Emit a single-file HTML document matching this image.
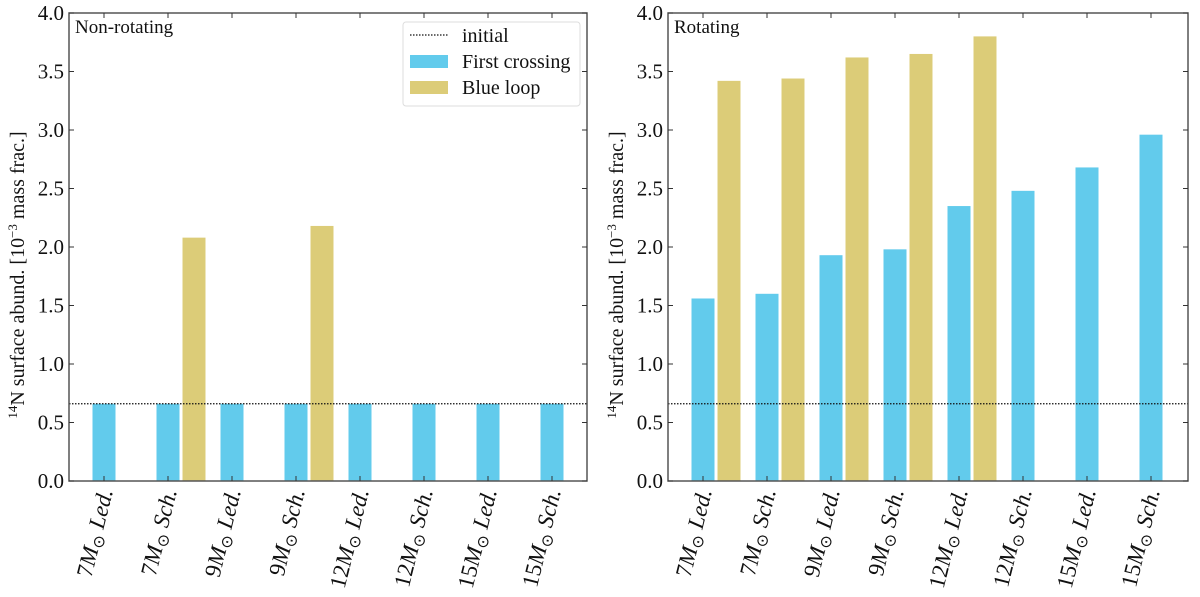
<!DOCTYPE html>
<html><head><meta charset="utf-8"><style>
body{margin:0;background:#fff}
svg text{font-family:"Liberation Serif",serif;fill:#111}
</style></head><body>
<svg id="c" width="1200" height="592" xmlns="http://www.w3.org/2000/svg"></svg>
<script>
const categories=["7M☉ Led.","7M☉ Sch.","9M☉ Led.","9M☉ Sch.","12M☉ Led.","12M☉ Sch.","15M☉ Led.","15M☉ Sch."];
const catMass=["7","7","9","9","12","12","15","15"];
const catSuffix=["Led.","Sch.","Led.","Sch.","Led.","Sch.","Led.","Sch."];
const nonRotFirst=[0.66,0.66,0.66,0.66,0.66,0.66,0.66,0.66];
const nonRotLoop=[null,2.08,null,2.18,null,null,null,null];
const rotFirst=[1.56,1.60,1.93,1.98,2.35,2.48,2.68,2.96];
const rotLoop=[3.42,3.44,3.62,3.65,3.80,null,null,null];
const initialValue=0.66;
const yTicks=[0,0.5,1,1.5,2,2.5,3,3.5,4];
const yTickLabels=["0.0","0.5","1.0","1.5","2.0","2.5","3.0","3.5","4.0"];
const NS="http://www.w3.org/2000/svg";
const svg=document.getElementById('c');
function mk(t,a,p){const e=document.createElementNS(NS,t);for(const k in a)e.setAttribute(k,a[k]);(p||svg).appendChild(e);return e;}
function panel(x0,x1,title,first,loop,name,legend){
  const top=13,bot=481;
  const g=mk('g',{});
  
  
  const y=v=>bot-(v/4)*(bot-top);
  const xc=i=>x0+35+i*64;
  first.forEach((v,i)=>{const r=mk('rect',{x:xc(i)-11.5,y:y(v),width:23,height:bot-y(v),fill:'#62cbec'},g);
    
    });
  loop.forEach((v,i)=>{if(v==null)return;const r=mk('rect',{x:xc(i)+14.5,y:y(v),width:23,height:bot-y(v),fill:'#dccc78'},g);
    
    });
  const il=mk('line',{x1:x0,x2:x1,y1:y(initialValue),y2:y(initialValue),stroke:'#111','stroke-width':1.2,'stroke-dasharray':'1.5,1.5'},g);
  
  
  const fr=mk('rect',{x:x0,y:top,width:x1-x0,height:bot-top,fill:'none',stroke:'#555','stroke-width':1.5},g);
  
  
  yTicks.forEach((v,i)=>{
    mk('line',{x1:x0,x2:x0+5,y1:y(v),y2:y(v),stroke:'#333'},g);
    mk('line',{x1:x1,x2:x1-5,y1:y(v),y2:y(v),stroke:'#333'},g);
    const t=mk('text',{x:x0-5,y:y(v)+7,'text-anchor':'end','font-size':21},g);t.textContent=yTickLabels[i];
    
    
  });
  categories.forEach((c,i)=>{
    mk('line',{x1:xc(i),x2:xc(i),y1:bot,y2:bot-5,stroke:'#333'},g);
    mk('line',{x1:xc(i),x2:xc(i),y1:top,y2:top+5,stroke:'#333'},g);
    const t=mk('text',{transform:`translate(${xc(i)+9},${bot+10}) rotate(-76)`,'text-anchor':'end','font-size':23,'font-style':'italic'},g);
    
    
    const a=mk('tspan',{'font-style':'normal'},t);a.textContent=catMass[i];
    const b=mk('tspan',{},t);b.textContent='M';
    const s=mk('tspan',{'font-size':16,dy:4,'font-style':'normal'},t);s.textContent='⊙';
    const d=mk('tspan',{dy:-4},t);d.textContent=' '+catSuffix[i];
  });
  const tt=mk('text',{x:x0+6,y:top+20,'font-size':19},g);tt.textContent=title;
  
  
  const yl=mk('text',{transform:`translate(${x0-45},${(top+bot)/2+28}) rotate(-90)`,'text-anchor':'middle','font-size':20},g);
  
  
  const p1=mk('tspan',{'font-size':13,dy:-7},yl);p1.textContent='14';
  const p2=mk('tspan',{dy:7},yl);p2.textContent='N surface abund. [10';
  const p3=mk('tspan',{'font-size':13,dy:-7},yl);p3.textContent='−3';
  const p4=mk('tspan',{dy:7},yl);p4.textContent=' mass frac.]';
  if(legend){
    const lg=mk('g',{},g);
    
    
    mk('rect',{x:403,y:22,width:177,height:84,rx:3,fill:'#fff',stroke:'#ddd'},lg);
    mk('line',{x1:410,x2:448,y1:35,y2:35,stroke:'#111','stroke-dasharray':'1.5,1.5','stroke-width':1.2},lg);
    mk('rect',{x:410,y:55,width:38,height:13,fill:'#62cbec'},lg);
    mk('rect',{x:410,y:81,width:38,height:13,fill:'#dccc78'},lg);
    [['initial',42],['First crossing',68],['Blue loop',94]].forEach(([s,yy])=>{const t=mk('text',{x:462,y:yy,'font-size':20},lg);t.textContent=s;
      
      });
  }
}
panel(69,587,'Non-rotating',nonRotFirst,nonRotLoop,'non-rotating-panel',true);
panel(668,1188,'Rotating',rotFirst,rotLoop,'rotating-panel',false);
</script>
</body></html>
